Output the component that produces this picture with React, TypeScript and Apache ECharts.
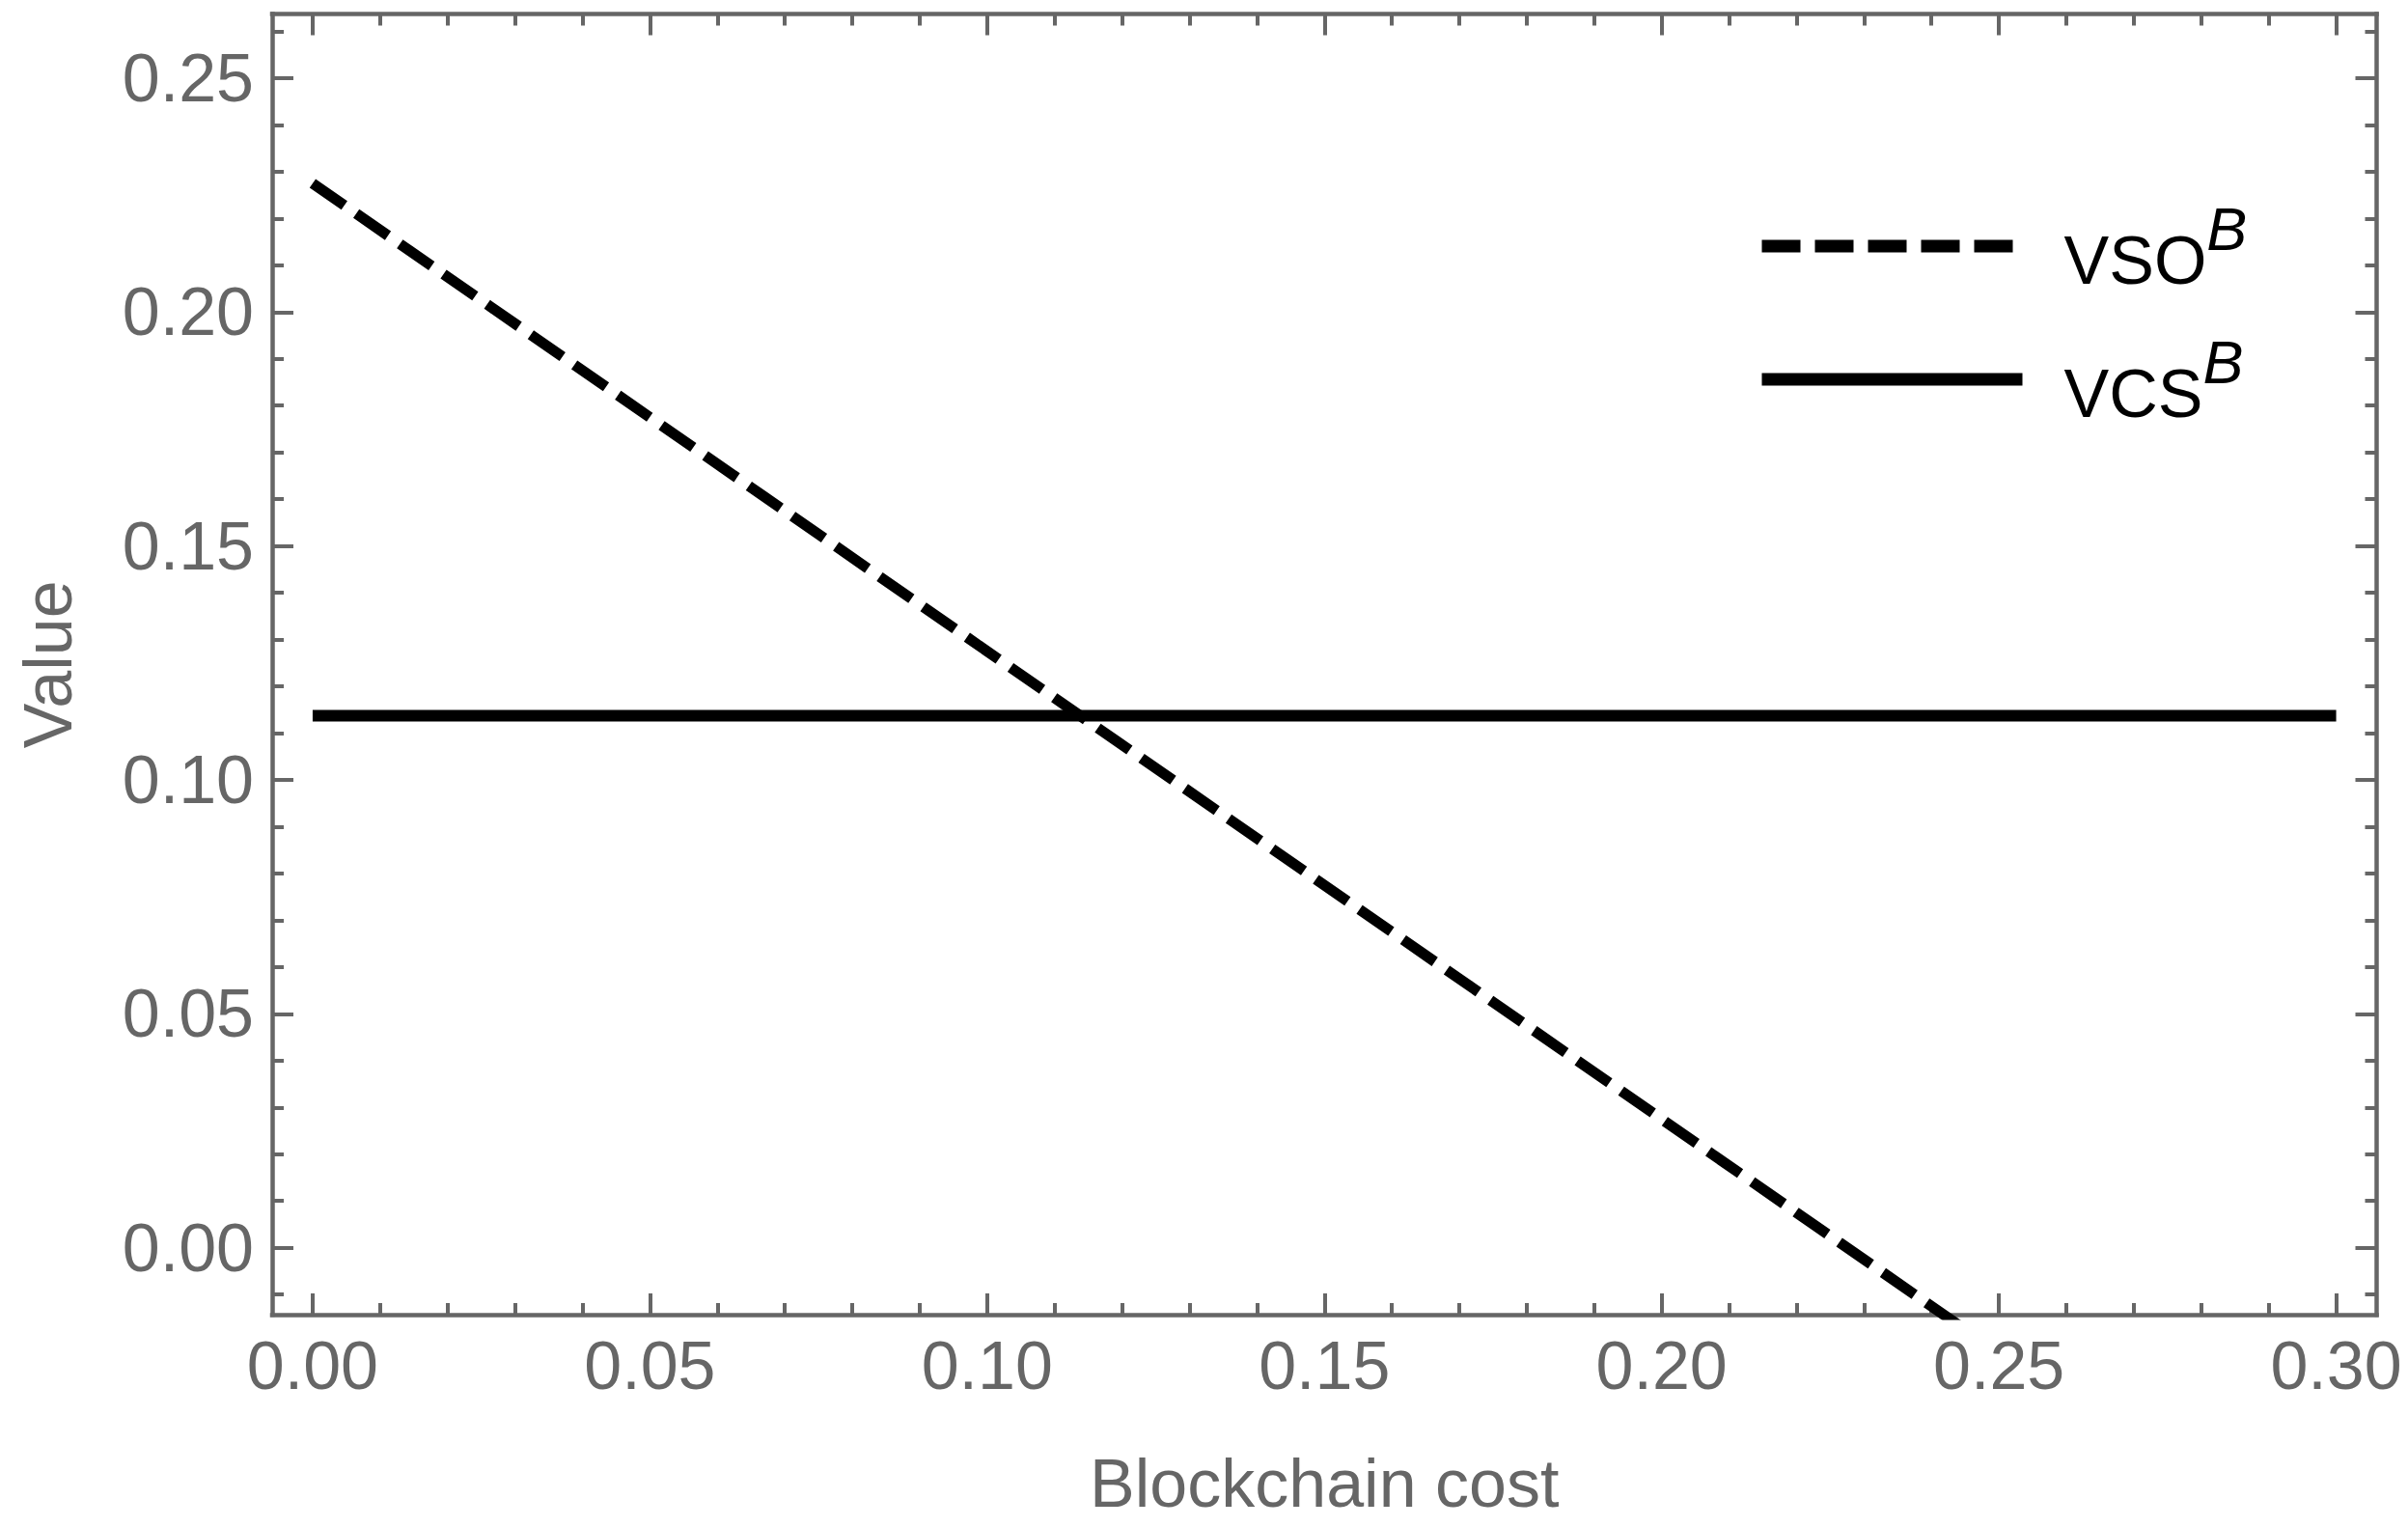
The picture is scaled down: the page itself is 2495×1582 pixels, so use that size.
import React, { useEffect, useRef } from "react";
import * as echarts from "echarts";

// Data
const costEnds = [0, 0.25, 0.3];
const vsoValues = [0.2275, -0.0225];
const vcsValues = [0.1137, 0.1137];

// Tick positions / labels
const xMajorTicks = [0, 0.05, 0.1, 0.15, 0.2, 0.25, 0.3];
const xMinorTicks = [
  0.01, 0.02, 0.03, 0.04, 0.06, 0.07, 0.08, 0.09, 0.11, 0.12, 0.13, 0.14,
  0.16, 0.17, 0.18, 0.19, 0.21, 0.22, 0.23, 0.24, 0.26, 0.27, 0.28, 0.29,
];
const yMajorTicks = [0, 0.05, 0.1, 0.15, 0.2, 0.25];
const yMinorTicks = [
  -0.01, 0.01, 0.02, 0.03, 0.04, 0.06, 0.07, 0.08, 0.09, 0.11, 0.12, 0.13,
  0.14, 0.16, 0.17, 0.18, 0.19, 0.21, 0.22, 0.23, 0.24, 0.26,
];
const seriesNames = ["VSO", "VCS"];
const superscript = "B";

const X_MIN = -0.006;
const X_MAX = 0.306;
const Y_MIN = -0.0143;
const Y_MAX = 0.2637;

const GRAY = "#666666";
const FONT = "'Liberation Sans', Arial, Helvetica, sans-serif";

function makeXAxis(position: "bottom" | "top", major: boolean, withLabels: boolean) {
  return {
    type: "value",
    position,
    min: X_MIN,
    max: X_MAX,
    axisLine: {
      show: major,
      onZero: false,
      lineStyle: { color: GRAY, width: 4.5, cap: "square" },
    },
    axisTick: {
      show: true,
      inside: true,
      length: major ? 22 : 12,
      customValues: major ? xMajorTicks : xMinorTicks,
      lineStyle: { color: GRAY, width: 4 },
    },
    axisLabel: withLabels
      ? {
          show: true,
          customValues: xMajorTicks,
          formatter: (v: number) => v.toFixed(2),
          color: GRAY,
          fontSize: 70,
          fontFamily: FONT,
          margin: 18,
        }
      : { show: false },
    splitLine: { show: false },
    ...(withLabels
      ? {
          name: "Blockchain cost",
          nameLocation: "middle",
          nameGap: 140,
          nameTextStyle: { color: GRAY, fontSize: 70, fontFamily: FONT },
        }
      : {}),
  };
}

function makeYAxis(position: "left" | "right", major: boolean, withLabels: boolean) {
  return {
    type: "value",
    position,
    min: Y_MIN,
    max: Y_MAX,
    axisLine: {
      show: major,
      onZero: false,
      lineStyle: { color: GRAY, width: 4.5, cap: "square" },
    },
    axisTick: {
      show: true,
      inside: true,
      length: major ? 22 : 12,
      customValues: major ? yMajorTicks : yMinorTicks,
      lineStyle: { color: GRAY, width: 4 },
    },
    axisLabel: withLabels
      ? {
          show: true,
          customValues: yMajorTicks,
          formatter: (v: number) => v.toFixed(2),
          color: GRAY,
          fontSize: 70,
          fontFamily: FONT,
          margin: 19,
        }
      : { show: false },
    splitLine: { show: false },
    ...(withLabels
      ? {
          name: "Value",
          nameLocation: "middle",
          nameGap: 197,
          nameTextStyle: { color: GRAY, fontSize: 70, fontFamily: FONT },
        }
      : {}),
  };
}

export default function App() {
  const ref = useRef<HTMLDivElement>(null);

  useEffect(() => {
    if (!ref.current) return;
    const chart = echarts.init(ref.current, null, { renderer: "svg" });

    const legendRich = {
      a: {
        fontSize: 70,
        fontFamily: FONT,
        color: "#000",
        lineHeight: 100,
        verticalAlign: "bottom",
        padding: [6, 0, 0, 38],
      },
      b: {
        fontSize: 63,
        fontFamily: FONT,
        fontStyle: "italic",
        color: "#000",
        lineHeight: 90,
        verticalAlign: "top",
      },
    };

    chart.setOption({
      animation: false,
      backgroundColor: "#ffffff",
      color: ["#000000", "#000000"],
      grid: {
        left: 282,
        right: 32.5,
        top: 14.5,
        bottom: 220,
        containLabel: false,
      },
      legend: {
        show: true,
        orient: "vertical",
        left: 1819,
        top: 205,
        padding: 0,
        itemWidth: 270,
        itemHeight: 14,
        itemGap: 38,
        data: seriesNames,
        lineStyle: { width: 13 },
        itemStyle: { opacity: 0 },
        formatter: (name: string) => `{a|${name}}{b|${superscript}}`,
        textStyle: { rich: legendRich },
      },
      xAxis: [
        makeXAxis("bottom", true, true),
        makeXAxis("bottom", false, false),
        makeXAxis("top", true, false),
        makeXAxis("top", false, false),
      ],
      yAxis: [
        makeYAxis("left", true, true),
        makeYAxis("left", false, false),
        makeYAxis("right", true, false),
        makeYAxis("right", false, false),
      ],
      series: [
        {
          name: seriesNames[0],
          type: "line",
          xAxisIndex: 0,
          yAxisIndex: 0,
          symbol: "none",
          clip: true,
          itemStyle: { color: "#000" },
          data: [
            [costEnds[0], vsoValues[0]],
            [costEnds[1], vsoValues[1]],
          ],
          lineStyle: { color: "#000", width: 11, type: [40, 15], cap: "butt" },
        },
        {
          name: seriesNames[1],
          type: "line",
          xAxisIndex: 0,
          yAxisIndex: 0,
          symbol: "none",
          clip: true,
          itemStyle: { color: "#000" },
          data: [
            [costEnds[0], vcsValues[0]],
            [costEnds[2], vcsValues[1]],
          ],
          lineStyle: { color: "#000", width: 12, type: "solid", cap: "butt" },
        },
      ],
    });

    return () => chart.dispose();
  }, []);

  return (
    <div
      ref={ref}
      style={{
        position: "absolute",
        left: 0,
        top: 0,
        width: 2495,
        height: 1582,
        background: "#fff",
      }}
    />
  );
}
